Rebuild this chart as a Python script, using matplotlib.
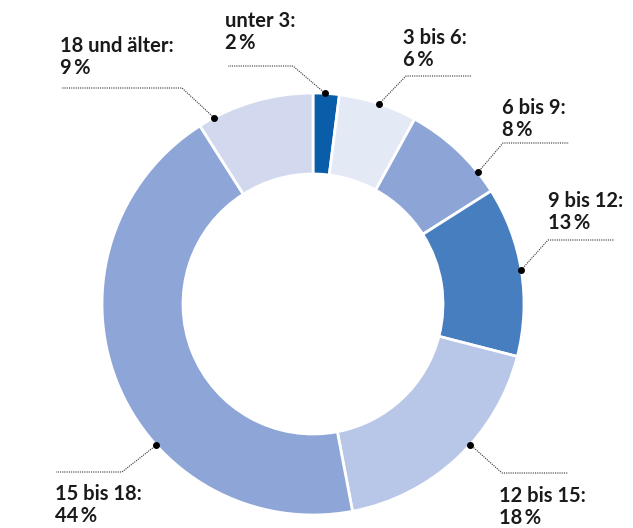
import numpy as np
import matplotlib.pyplot as plt

categories = ["unter 3", "3 bis 6", "6 bis 9", "9 bis 12", "12 bis 15", "15 bis 18", "18 und älter"]
shares = [2, 6, 8, 13, 18, 44, 9]
colors = ["#0a5da9", "#e4e9f6", "#8da5d6", "#467ec0", "#b8c6e8", "#8ea6d7", "#d2d9ef"]

W, H = 633, 528
cx, cy, R, ring = 313, 304, 211, 81

# leader layout in pixels: dot angle (deg clockwise from top), elbow, line end x, text left/top
leaders = [
    (3.3, (293, 66), 228, (225, 11)),
    (18.3, (406, 76), 472, (403, 28)),
    (51.4, (503, 143), 569, (502, 98)),
    (80.7, (548, 240), 614, (548, 191)),
    (131.8, (502, 473), 568, (499, 486)),
    (228.0, (122, 472), 56, (55, 484)),
    (332.0, (182, 88), 62, (60, 36)),
]

plt.rcParams['font.family'] = ['Lato', 'DejaVu Sans']

fig = plt.figure(figsize=(W / 100, H / 100), dpi=100)
ax = fig.add_axes([0, 0, 1, 1])
ax.set_xlim(0, W)
ax.set_ylim(0, H)
ax.set_aspect('equal')
ax.axis('off')

ax.pie(shares, colors=colors, startangle=90, counterclock=False,
       center=(cx, H - cy), radius=R,
       wedgeprops=dict(width=ring, edgecolor='white', linewidth=2))
ax.set_xlim(0, W)
ax.set_ylim(0, H)

for name, val, (ang, elbow, xend, tpos) in zip(categories, shares, leaders):
    a = np.deg2rad(ang)
    px = cx + R * np.sin(a)
    py = cy - R * np.cos(a)
    ax.plot([px, elbow[0], xend], [H - py, H - elbow[1], H - elbow[1]],
            color='#333333', lw=0.8, ls=(0, (1, 1)))
    ax.plot(px, H - py, 'o', color='black', ms=4)
    ax.text(tpos[0], H - tpos[1], f"{name}:\n{val}\u2009%", ha='left', va='top',
            fontsize=14.5, fontweight='bold', color='#1a1a1a', linespacing=1.12)

fig.savefig('out.png', dpi=100)
